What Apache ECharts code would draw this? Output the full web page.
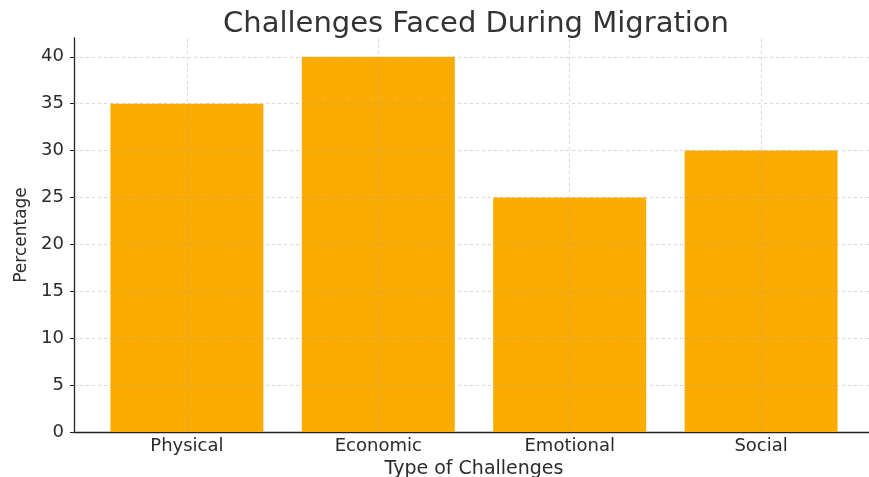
<!DOCTYPE html>
<html>
<head>
<meta charset="utf-8">
<script src="https://cdn.jsdelivr.net/npm/echarts@6/dist/echarts.min.js"></script>
<style>
  html, body { margin: 0; padding: 0; background: #fff; }
  #chart { width: 869px; height: 477px; }
</style>
</head>
<body>
<div id="chart"></div>
<script>
// Challenge categories and their share (%)
const categories = ['Physical', 'Economic', 'Emotional', 'Social'];
const percentages = [35, 40, 25, 30];
const yTicks = [0, 5, 10, 15, 20, 25, 30, 35, 40];

const FONT = '"DejaVu Sans", sans-serif';
const TEXT = '#2b2b2b';
const GRID = { color: 'rgba(160,160,160,0.42)', width: 1, type: [3, 3] };

const catIdx = categories.map((_, i) => i);
const barData = percentages.map((v, i) => [i, v]);

// light dashed grid drawn over the bars
const gridLines = [
  ...yTicks.filter(v => v > 0).map(v => ({ yAxis: v })),
  ...catIdx.map(i => ({ xAxis: i }))
];

const chart = echarts.init(document.getElementById('chart'), null, { renderer: 'canvas' });
chart.setOption({
  backgroundColor: '#ffffff',
  animation: false,
  title: {
    text: 'Challenges Faced During Migration',
    left: 471,
    top: 5,
    textAlign: 'center',
    textStyle: { fontFamily: FONT, fontSize: 29, fontWeight: 'normal', color: '#333' }
  },
  grid: { left: 74, top: 38, width: 800, height: 394, outerBoundsMode: 'none', containLabel: false },
  xAxis: {
    type: 'value',
    min: -0.59,
    max: 3.59,
    name: 'Type of Challenges',
    nameLocation: 'middle',
    nameGap: 27,
    nameTextStyle: { fontFamily: FONT, fontSize: 19, color: TEXT },
    axisLine: { show: true, onZero: false, lineStyle: { color: '#222', width: 1.3 } },
    axisTick: { show: true, inside: true, length: 4, customValues: catIdx, lineStyle: { color: '#222' } },
    axisLabel: {
      customValues: catIdx,
      formatter: v => categories[Math.round(v)],
      fontFamily: FONT, fontSize: 18, color: TEXT, margin: 5
    },
    splitLine: { show: false }
  },
  yAxis: {
    type: 'value',
    min: 0,
    max: 42,
    interval: 5,
    name: 'Percentage',
    nameLocation: 'middle',
    nameGap: 42,
    nameRotate: 90,
    nameTextStyle: { fontFamily: FONT, fontSize: 17, color: TEXT },
    axisLine: { show: true, onZero: false, lineStyle: { color: '#222', width: 1.3 } },
    axisTick: { show: true, length: 4, customValues: yTicks, lineStyle: { color: '#222' } },
    axisLabel: { customValues: yTicks, fontFamily: FONT, fontSize: 18, color: TEXT, margin: 10 },
    splitLine: { show: false }
  },
  series: [{
    type: 'bar',
    data: barData,
    barWidth: 153,
    itemStyle: { color: '#FCAC00' },
    markLine: {
      silent: true,
      symbol: 'none',
      label: { show: false },
      lineStyle: GRID,
      data: gridLines
    }
  }]
});
</script>
</body>
</html>
